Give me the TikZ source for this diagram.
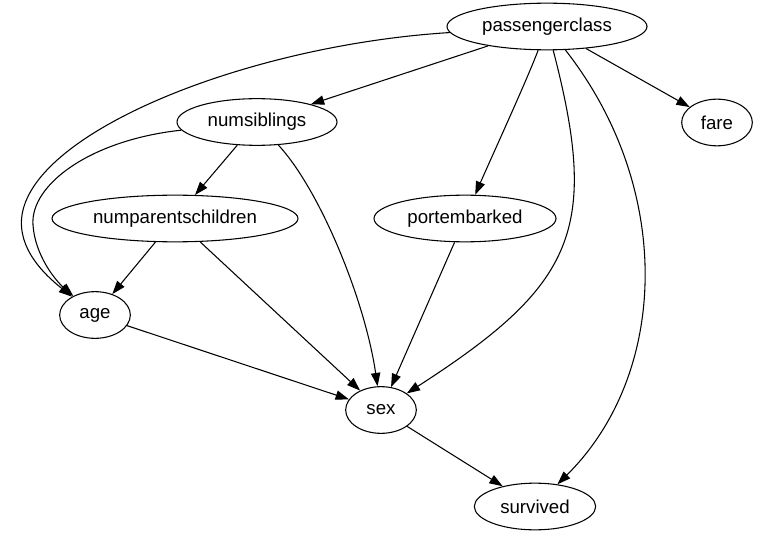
\documentclass[tikz,border=0pt]{standalone}
\usepackage{tikz}
\usepackage{fontspec}
\setmainfont{Liberation Sans}
\usetikzlibrary{arrows.meta, shapes.geometric}

\begin{document}
\begin{tikzpicture}[x=0.75pt, y=-0.75pt,
    var/.style={draw, ellipse, line width=0.8pt, inner sep=0pt,
                minimum height=35pt, font=\fontsize{14}{16}\selectfont},
    dep/.style={-{Triangle[length=10pt, width=7pt]}, line width=0.8pt}
  ]
    \useasboundingbox (0,0) rectangle (767,545);

    \node[var, minimum width=150pt] (pclass) at (547,26.5) {passengerclass};
    \node[var, minimum width=53pt] (fare) at (717,122.5) {fare};
    \node[var, minimum width=120pt] (nsib) at (257,122) {numsiblings};
    \node[var, minimum width=184.5pt] (npar) at (175,218.5) {numparentschildren};
    \node[var, minimum width=136.5pt] (port) at (465,218.5) {portembarked};
    \node[var, minimum width=53pt] (age) at (95,315) {age};
    \node[var, minimum width=53pt] (sex) at (381,410) {sex};
    \node[var, minimum width=91pt] (surv) at (535,506.5) {survived};

    % straight edges
    \draw[dep] (pclass) -- (nsib);
    \draw[dep] (pclass) -- (fare);
    \draw[dep] (nsib) -- (npar);
    \draw[dep] (npar) -- (age);
    \draw[dep] (npar) -- (sex);
    \draw[dep] (port) -- (sex);
    \draw[dep] (age) -- (sex);
    \draw[dep] (sex) -- (surv);

    % curved edges
    \draw[dep] (pclass) .. controls (527,80) and (488,165) .. (port);
    \draw[dep] (pclass) .. controls (600,230) and (575,285) .. (sex);
    \draw[dep] (pclass) .. controls (675,190) and (668,375) .. (surv);
    \draw[dep] (nsib) .. controls (320,190) and (365,300) .. (sex);
    \draw[dep] (pclass) .. controls (250,45) and (35,130) .. (22,215)
      .. controls (17,249) and (45,275) .. (age);
    \draw[dep] (nsib) .. controls (90,140) and (30,185) .. (33,225)
      .. controls (35,255) and (55,280) .. (age);
  \end{tikzpicture}
\end{document}
